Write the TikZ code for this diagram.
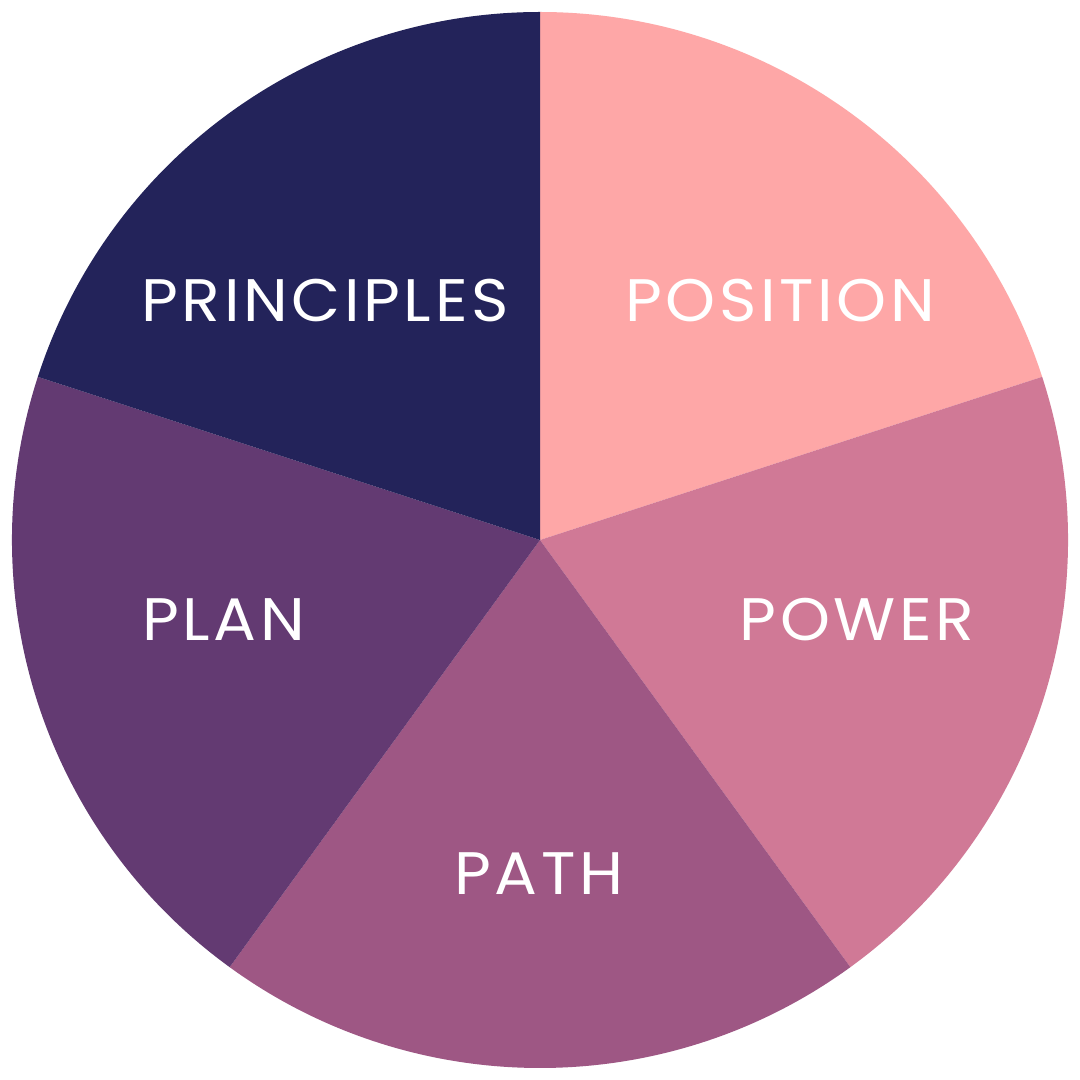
\documentclass[tikz,border=0pt]{standalone}
\usepackage{fontspec}
\setmainfont[LetterSpace=6,FakeStretch=1.06]{Poppins}
\definecolor{cPrin}{HTML}{23235A}
\definecolor{cPos}{HTML}{FEA7A7}
\definecolor{cPow}{HTML}{D07996}
\definecolor{cPath}{HTML}{9E5784}
\definecolor{cPlan}{HTML}{633A72}
\begin{document}
\begin{tikzpicture}[x=1pt,y=1pt,
  lbl/.style={text=white,font=\fontsize{60}{60}\selectfont,anchor=base,inner sep=0pt}]
\useasboundingbox (0,0) rectangle (1080,1080);
\fill[white] (0,0) rectangle (1080,1080);
\coordinate (c) at (540,540);
\fill[cPos]  (c) -- ++(90:528) arc[start angle=90,end angle=18,radius=528] -- cycle;
\fill[cPow]  (c) -- ++(18:528) arc[start angle=18,end angle=-54,radius=528] -- cycle;
\fill[cPath] (c) -- ++(-54:528) arc[start angle=-54,end angle=-126,radius=528] -- cycle;
\fill[cPlan] (c) -- ++(-126:528) arc[start angle=-126,end angle=-198,radius=528] -- cycle;
\fill[cPrin] (c) -- ++(162:528) arc[start angle=162,end angle=90,radius=528] -- cycle;
\node[lbl] (prin) at (325,758) {PRINCIPLES};
\node[lbl] (pos) at (780,758) {POSITION};
\node[lbl] (pow) at (857,439) {POWER};
\node[lbl] (path) at (539,185) {PATH};
\node[lbl] (plan) at (223.5,439) {PLAN};
\end{tikzpicture}
\end{document}
